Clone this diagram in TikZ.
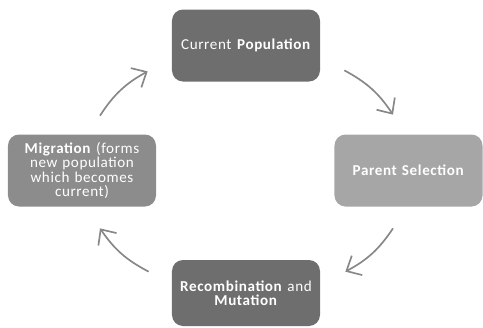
\documentclass[tikz,border=0pt]{standalone}
\usepackage{fontspec}
\setmainfont{Carlito}[LetterSpace=4]
\usetikzlibrary{arrows.meta,calc}

\definecolor{darkbox}{RGB}{110,110,110}
\definecolor{midbox}{RGB}{140,140,140}
\definecolor{lightbox}{RGB}{166,166,166}
\definecolor{arrowgray}{RGB}{135,135,135}

\tikzset{
  stage/.style={rounded corners=0.22cm, minimum width=2.96cm, minimum height=1.44cm,
    text width=2.85cm, align=center, inner sep=1pt, text=white,
    font=\fontsize{8.6}{8.2}\selectfont},
  cyclearrow/.style={draw=arrowgray, line width=0.95pt, bend left=14,
    -{Straight Barb[length=2.4mm,width=4.4mm]}}
}

\begin{document}
\begin{tikzpicture}
 \useasboundingbox (0,0) rectangle (9.66,6.54);

 \node[stage,fill=darkbox] (cur) at (4.92,5.63) {Current \textbf{Population}};
 \node[stage,fill=lightbox] (par) at (8.17,3.13) {\textbf{Parent Selection}};
 \node[stage,fill=darkbox,minimum height=1.32cm] (rec) at (4.92,0.68) {\textbf{Recombination} and\\\textbf{Mutation}};
 \node[stage,fill=midbox] (mig) at (1.64,3.13) {\textbf{Migration} (forms\\new population\\which becomes\\current)};

 \draw[cyclearrow] ($(cur.south east)+(0.48,0.23)$) to ($(par.north)+(-0.31,0.39)$);
 \draw[cyclearrow] ($(par.south)+(-0.31,-0.43)$) to ($(rec.north east)+(0.50,-0.24)$);
 \draw[cyclearrow] ($(rec.north west)+(-0.46,-0.24)$) to ($(mig.south)+(0.36,-0.43)$);
 \draw[cyclearrow] ($(mig.north)+(0.36,0.37)$) to ($(cur.south west)+(-0.48,0.21)$);

\end{tikzpicture}
\end{document}
